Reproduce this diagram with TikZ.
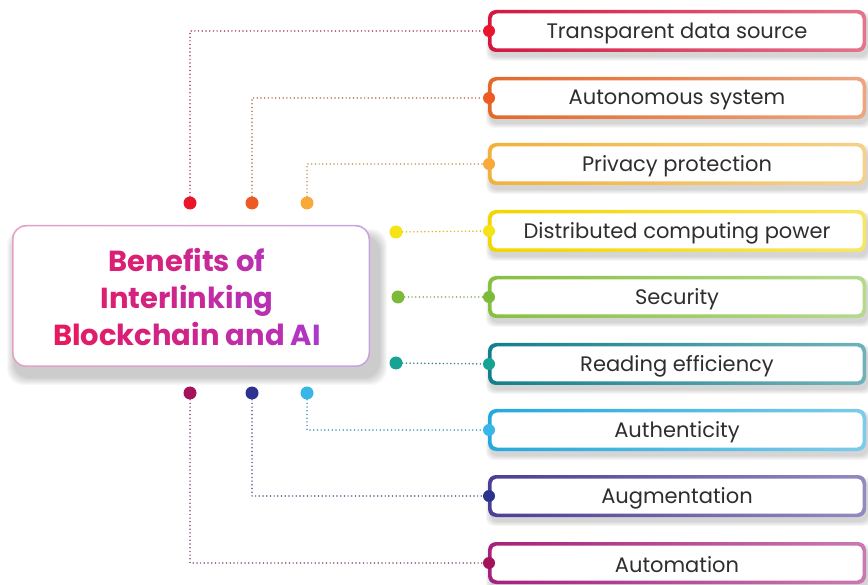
\documentclass[tikz,border=0pt]{standalone}
\usepackage{fontspec}
\setmainfont{Poppins}
\definecolor{txt}{HTML}{2E2E2E}
\definecolor{c1}{HTML}{D3173F}\definecolor{d1}{HTML}{E9162B}
\definecolor{c2}{HTML}{E2692A}\definecolor{d2}{HTML}{EE5A24}
\definecolor{c3}{HTML}{F1B23B}\definecolor{d3}{HTML}{F7A93A}
\definecolor{c4}{HTML}{F2D600}\definecolor{d4}{HTML}{F5E316}
\definecolor{c5}{HTML}{86C041}\definecolor{d5}{HTML}{7CBA3A}
\definecolor{c6}{HTML}{137F8C}\definecolor{d6}{HTML}{16A393}
\definecolor{c7}{HTML}{25A9DC}\definecolor{d7}{HTML}{38B6E8}
\definecolor{c8}{HTML}{4B3E95}\definecolor{d8}{HTML}{2D3190}
\definecolor{c9}{HTML}{A6207E}\definecolor{d9}{HTML}{A3125A}
\definecolor{tpink}{HTML}{E8185A}
\definecolor{tpurple}{HTML}{A93AD2}
\definecolor{mbl}{HTML}{E4A2C4}
\definecolor{mbr}{HTML}{C7A4E0}
\newcommand\gcol[2]{\textcolor{tpurple!#1!tpink}{#2}}
\begin{document}
\begin{tikzpicture}[x=1pt,y=-1pt,
  srcdot/.style={circle,inner sep=0pt,minimum size=13pt},
  enddot/.style={circle,inner sep=0pt,minimum size=12pt},
  link/.style={line width=1.7pt,dash pattern=on 0pt off 3.7pt,line cap=round},
  boxtext/.style={font=\fontsize{21}{24}\selectfont,text=txt,inner sep=0pt}]
\useasboundingbox (0,0) rectangle (868,585);
% main box shadow
\foreach \k in {0,...,7}
  \fill[black,opacity=0.028,rounded corners=16pt]
    (14-\k,236-\k) rectangle (380+\k,378+\k);
% main box border + fill
\shade[rounded corners=14pt,left color=mbl,right color=mbr] (12,225) rectangle (370,367);
\node[fill=white,rounded corners=13pt,minimum width=355pt,minimum height=139pt,inner sep=0pt] (main) at (191,296) {};
% gradient title
\node[align=center,inner sep=0pt,font=\bfseries\fontsize{29}{37}\selectfont] (title) at (187,297)
  {\gcol{22}{Be}\gcol{32}{ne}\gcol{42}{fi}\gcol{52}{ts} \gcol{67}{o}\gcol{77}{f}\\
   \gcol{20}{In}\gcol{30}{te}\gcol{40}{rl}\gcol{50}{in}\gcol{62}{ki}\gcol{74}{ng}\\
   \gcol{5}{Bl}\gcol{15}{oc}\gcol{25}{kc}\gcol{35}{ha}\gcol{45}{in} \gcol{62}{an}\gcol{72}{d} \gcol{85}{A}\gcol{95}{I}};
% benefit boxes
\foreach \i/\yy/\lbl in {1/31/Transparent data source,2/98/Autonomous system,3/164/Privacy protection,
    4/231/Distributed computing power,5/297/Security,6/364/Reading efficiency,
    7/430/Authenticity,8/496/Augmentation,9/563/Automation}{
  \foreach \k in {0,...,4}
    \fill[black,opacity=0.035,rounded corners=8pt] (490-\k,\yy-19+4-\k) rectangle (868+\k,\yy+21+5+\k);
  \shade[rounded corners=8pt,left color=c\i,right color=c\i!60!white] (488,\yy-21) rectangle (866,\yy+21);
  \node[fill=white,rounded corners=5.5pt,minimum width=371pt,minimum height=35pt,inner sep=0pt] (b\i) at (677,\yy) {};
  \node[boxtext] (t\i) at ([yshift=-2pt]b\i.center) {\lbl};
  \node[enddot,fill=d\i] (e\i) at (489,\yy) {};
}
% source dots
\node[srcdot,fill=d1] (s1) at (190,203) {};
\node[srcdot,fill=d2] (s2) at (252,203) {};
\node[srcdot,fill=d3] (s3) at (307,203) {};
\node[srcdot,fill=d4] (s4) at (396,232) {};
\node[srcdot,fill=d5] (s5) at (398,297) {};
\node[srcdot,fill=d6] (s6) at (396,363) {};
\node[srcdot,fill=d7] (s7) at (307,393) {};
\node[srcdot,fill=d8] (s8) at (252,393) {};
\node[srcdot,fill=d9] (s9) at (190,393) {};
% connectors
\draw[link,c1!55!gray] (s1) |- (e1);
\draw[link,c2!55!gray] (s2) |- (e2);
\draw[link,c3!60!gray] (s3) |- (e3);
\draw[link,c4!75!gray] (s4) -- (e4);
\draw[link,c5!70!gray] (s5) -- (e5);
\draw[link,c6!70!gray] (s6) -- (e6);
\draw[link,c7!60!gray] (s7) |- (e7);
\draw[link,c8!60!gray] (s8) |- (e8);
\draw[link,c9!55!gray] (s9) |- (e9);
\end{tikzpicture}
\end{document}
